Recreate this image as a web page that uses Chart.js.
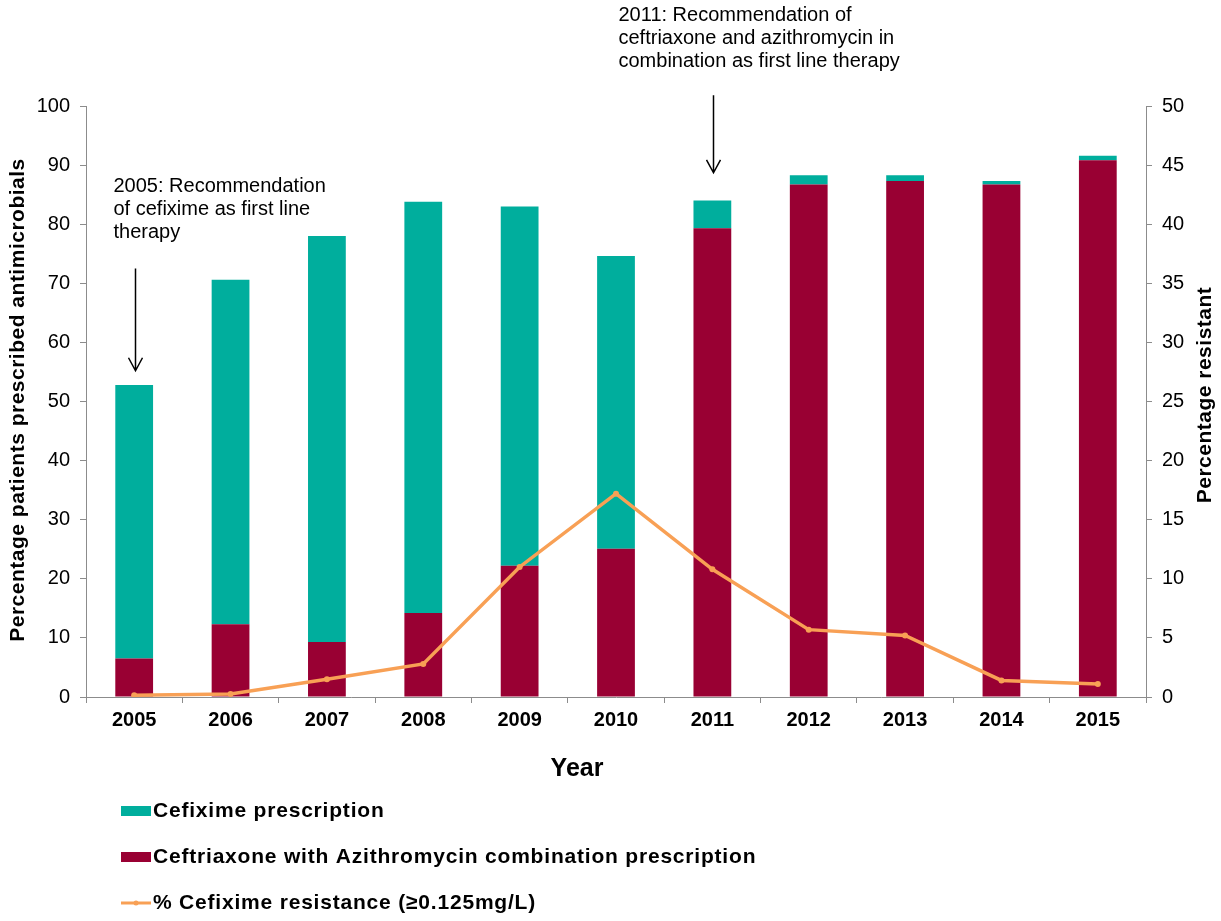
<!DOCTYPE html>
<html>
<head>
<meta charset="utf-8">
<script src="https://cdn.jsdelivr.net/npm/chart.js@4.4.1/dist/chart.umd.min.js"></script>
<style>
  html, body { margin: 0; padding: 0; background: #fff; }
  #wrap { width: 1221px; height: 921px; position: relative; }
</style>
</head>
<body>
<div id="wrap"><canvas id="myChart" width="1221" height="921"></canvas></div>
<script>
var years = ['2005', '2006', '2007', '2008', '2009', '2010', '2011', '2012', '2013', '2014', '2015'];
var ceftriaxoneAzithro = [6.5, 12.3, 9.3, 14.2, 22.2, 25.1, 79.3, 86.7, 87.3, 86.7, 90.8];
var cefixime = [46.3, 58.3, 68.7, 69.6, 60.8, 49.5, 4.7, 1.6, 1.0, 0.6, 0.8];
var resistance = [0.15, 0.25, 1.5, 2.8, 11.0, 17.2, 10.8, 5.7, 5.2, 1.4, 1.1];

var leftTicks = [0, 10, 20, 30, 40, 50, 60, 70, 80, 90, 100];
var rightTicks = [0, 5, 10, 15, 20, 25, 30, 35, 40, 45, 50];

var notes = [
    { year: 0, from: 72.5, to: 55.2, dx: -22, top: 186, lines: ['2005: Recommendation', 'of cefixime as first line', 'therapy'] },
    { year: 6, from: 101.8, to: 88.7, dx: -95, top: 15, lines: ['2011: Recommendation of', 'ceftriaxone and azithromycin in', 'combination as first line therapy'] }
];

var teal = '#00AE9D';
var wine = '#990033';
var orange = '#F8A055';
var axisGrey = '#8c8c8c';
var fontName = '"Liberation Sans", Arial, sans-serif';

// titles, notes with arrows and the stacked legend at the bottom
var extras = {
    id: 'extras',
    afterDraw: function (chart) {
        var ctx = chart.ctx;
        var x = chart.scales.x;
        var y = chart.scales.y;
        ctx.save();
        ctx.fillStyle = '#000';

        ctx.font = 'bold 21px ' + fontName;
        ctx.letterSpacing = '0.5px';
        ctx.textAlign = 'center';
        ctx.textBaseline = 'middle';
        ctx.save();
        ctx.translate(18, 400);
        ctx.rotate(-Math.PI / 2);
        ctx.fillText('Percentage patients prescribed antimicrobials', 0, 0);
        ctx.restore();
        ctx.save();
        ctx.translate(1205, 395);
        ctx.rotate(-Math.PI / 2);
        ctx.fillText('Percentage resistant', 0, 0);
        ctx.restore();

        ctx.letterSpacing = '0px';
        ctx.font = 'bold 25px ' + fontName;
        ctx.fillText('Year', 577, 769);

        // annotations
        ctx.font = '20px ' + fontName;
        ctx.textAlign = 'left';
        ctx.strokeStyle = '#000';
        ctx.lineWidth = 1.5;
        notes.forEach(function (n) {
            var ax = Math.round(x.getPixelForValue(n.year)) + 1.5;
            for (var i = 0; i < n.lines.length; i++) {
                ctx.fillText(n.lines[i], ax + n.dx, n.top + i * 23);
            }
            var y1 = y.getPixelForValue(n.from);
            var y2 = y.getPixelForValue(n.to);
            ctx.beginPath();
            ctx.moveTo(ax, y1);
            ctx.lineTo(ax, y2);
            ctx.moveTo(ax - 7, y2 - 13);
            ctx.lineTo(ax, y2);
            ctx.lineTo(ax + 7, y2 - 13);
            ctx.stroke();
        });

        // legend
        ctx.font = 'bold 21px ' + fontName;
        ctx.letterSpacing = '0.8px';
        ctx.textBaseline = 'middle';
        var items = [
            { label: 'Cefixime prescription', color: teal, kind: 'bar', y: 811 },
            { label: 'Ceftriaxone with Azithromycin combination prescription', color: wine, kind: 'bar', y: 857 },
            { label: '% Cefixime resistance (\u22650.125mg/L)', color: orange, kind: 'line', y: 903 }
        ];
        items.forEach(function (it) {
            if (it.kind === 'bar') {
                ctx.fillStyle = it.color;
                ctx.fillRect(121, it.y - 5, 30, 10);
            } else {
                ctx.strokeStyle = it.color;
                ctx.lineWidth = 3;
                ctx.beginPath();
                ctx.moveTo(121, it.y);
                ctx.lineTo(151, it.y);
                ctx.stroke();
                ctx.fillStyle = it.color;
                ctx.beginPath();
                ctx.arc(136, it.y, 2.5, 0, Math.PI * 2);
                ctx.fill();
            }
            ctx.fillStyle = '#000';
            ctx.fillText(it.label, 153, it.y);
        });
        ctx.restore();
    }
};

var ctx = document.getElementById('myChart').getContext('2d');
var myChart = new Chart(ctx, {
    type: 'bar',
    data: {
        labels: years,
        datasets: [{
            type: 'line',
            label: '% Cefixime resistance (\u22650.125mg/L)',
            data: resistance,
            yAxisID: 'y2',
            borderColor: orange,
            backgroundColor: orange,
            borderWidth: 3.5,
            pointRadius: 3,
            pointBorderWidth: 0,
            tension: 0,
            order: 0
        }, {
            label: 'Ceftriaxone with Azithromycin combination prescription',
            data: ceftriaxoneAzithro,
            backgroundColor: wine,
            yAxisID: 'y',
            stack: 'rx',
            order: 1
        }, {
            label: 'Cefixime prescription',
            data: cefixime,
            backgroundColor: teal,
            yAxisID: 'y',
            stack: 'rx',
            order: 1
        }]
    },
    plugins: [extras],
    options: {
        responsive: false,
        animation: false,
        layout: { padding: { top: 106, left: 0, right: 0, bottom: 0 } },
        categoryPercentage: 0.8,
        barPercentage: 0.49,
        plugins: {
            legend: { display: false },
            tooltip: { enabled: false }
        },
        scales: {
            x: {
                stacked: true,
                offset: true,
                grid: { display: true, drawOnChartArea: false, offset: true, tickLength: 6, color: axisGrey },
                border: { color: axisGrey, width: 1 },
                ticks: { color: '#000', font: { family: fontName, size: 20, weight: 'bold' }, padding: 5, maxRotation: 0 },
                afterFit: function (scale) { scale.height = 224; }
            },
            y: {
                position: 'left',
                stacked: true,
                min: 0,
                max: 100,
                afterBuildTicks: function (scale) {
                    scale.ticks = leftTicks.map(function (v) { return { value: v }; });
                },
                grid: { display: true, drawOnChartArea: false, tickLength: 6, color: axisGrey },
                border: { color: axisGrey, width: 1 },
                ticks: { color: '#000', font: { family: fontName, size: 20 }, padding: 10 },
                afterFit: function (scale) { scale.width = 86; }
            },
            y2: {
                position: 'right',
                min: 0,
                max: 50,
                afterBuildTicks: function (scale) {
                    scale.ticks = rightTicks.map(function (v) { return { value: v }; });
                },
                grid: { display: true, drawOnChartArea: false, tickLength: 6, color: axisGrey },
                border: { color: axisGrey, width: 1 },
                ticks: { color: '#000', font: { family: fontName, size: 20 }, padding: 10 },
                afterFit: function (scale) { scale.width = 75; }
            }
        }
    }
});
</script>
</body>
</html>
